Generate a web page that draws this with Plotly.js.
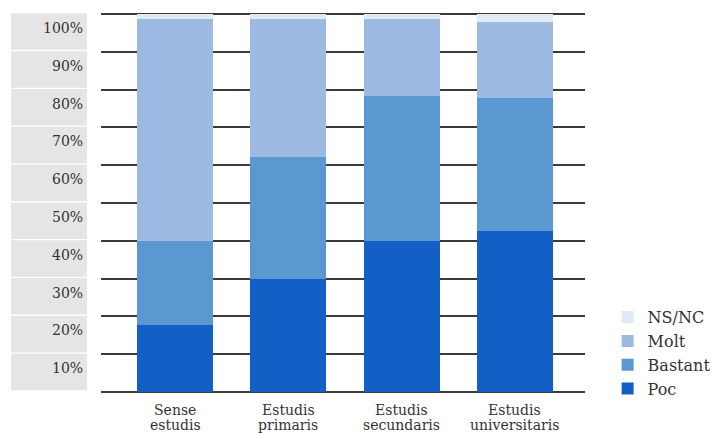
<!DOCTYPE html>
<html>
<head>
<meta charset="utf-8">
<script src="https://cdn.plot.ly/plotly-3.0.1.min.js"></script>
<style>html,body{margin:0;padding:0;background:#fff}#chart{width:714px;height:434px}</style>
</head>
<body>
<div id="chart"></div>
<script>
const categories = ["Sense estudis", "Estudis primaris", "Estudis secundaris", "Estudis universitaris"];
const poc     = [17.7, 29.9, 40.0, 42.6];
const bastant = [22.2, 32.3, 38.3, 35.2];
const molt    = [58.8, 36.5, 20.4, 20.1];
const nsnc    = [1.3, 1.3, 1.3, 2.1];
const yTicks  = [10, 20, 30, 40, 50, 60, 70, 80, 90, 100];
const yTickLabels = ["10%", "20%", "30%", "40%", "50%", "60%", "70%", "80%", "90%", "100%"];

const FONT = "DejaVu Serif, serif";
const idx = categories.map((c, i) => i);

function bar(name, vals, color) {
  return {type: "bar", name: name, x: idx, y: vals, width: 0.67,
          marker: {color: color, line: {width: 0}}, hoverinfo: "skip"};
}
const data = [
  bar("Poc", poc, "#1260c6"),
  bar("Bastant", bastant, "#5b98d2"),
  bar("Molt", molt, "#9dbbe2"),
  bar("NS/NC", nsnc, "#e2eaf6")
];

const shapes = [];
const annotations = [];
yTicks.forEach((v, i) => {
  shapes.push({type: "rect", xref: "paper", yref: "y", layer: "below",
    x0: -0.186, x1: -0.029, y0: v - 9.5, y1: v + 0.15,
    fillcolor: "#e5e5e5", line: {width: 0}});
  annotations.push({xref: "paper", yref: "y", x: -0.033, y: v, xanchor: "right", yanchor: "middle",
    yshift: -14, showarrow: false, text: yTickLabels[i], font: {family: FONT, size: 14, color: "#333"}});
});
categories.forEach((c, i) => {
  const parts = c.split(" ");
  annotations.push({xref: "x", yref: "paper", x: i, y: 0, yanchor: "middle", yshift: -16,
    showarrow: false, text: parts[0], font: {family: FONT, size: 14, color: "#333"}});
  annotations.push({xref: "x", yref: "paper", x: i, y: 0, yanchor: "middle", yshift: -31,
    showarrow: false, text: parts.slice(1).join(" "), font: {family: FONT, size: 14, color: "#333"}});
});

const layout = {
  width: 714, height: 434,
  margin: {l: 101, r: 129, t: 12, b: 40, autoexpand: false},
  paper_bgcolor: "#fff", plot_bgcolor: "#fff",
  barmode: "stack",
  showlegend: true,
  legend: {xref: "container", yref: "container", x: 0.851, xanchor: "left", y: 0.064, yanchor: "bottom",
           traceorder: "reversed", font: {family: FONT, size: 16, color: "#333"}, itemclick: false},
  xaxis: {range: [-0.653, 3.618], showticklabels: false, showgrid: false, zeroline: false,
          ticks: "", fixedrange: true},
  yaxis: {range: [-0.5, 100.5], tickvals: [0].concat(yTicks), showticklabels: false,
          showgrid: true, gridcolor: "#3a3a3a", gridwidth: 2, zeroline: false, ticks: "", fixedrange: true},
  shapes: shapes,
  annotations: annotations,
  font: {family: FONT, color: "#333"}
};
Plotly.newPlot("chart", data, layout, {staticPlot: true, displayModeBar: false});
</script>
</body>
</html>
